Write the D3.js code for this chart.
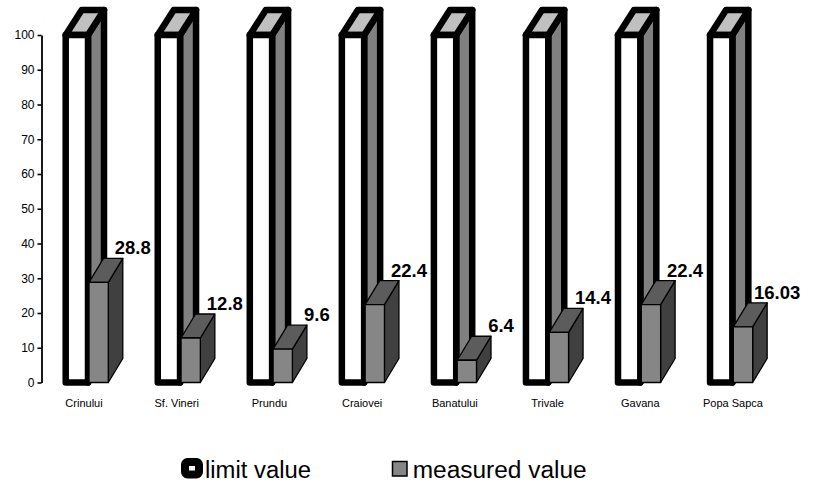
<!DOCTYPE html>
<html>
<head>
<meta charset="utf-8">
<script src="https://cdn.jsdelivr.net/npm/d3@7"></script>
<style>
  html, body { margin: 0; padding: 0; background: #fff; }
  svg { display: block; font-family: Arial, "Liberation Sans", sans-serif; }
</style>
</head>
<body>
<svg id="chart" width="814" height="487"></svg>
<script>
// Sampling points along the river and their measured concentrations vs. the limit
const categories = ["Crinului", "Sf. Vineri", "Prundu", "Craiovei", "Banatului", "Trivale", "Gavana", "Popa Sapca"];
const limitValues = [100, 100, 100, 100, 100, 100, 100, 100];
const measuredValues = [28.8, 12.8, 9.6, 22.4, 6.4, 14.4, 22.4, 16.03];
const measuredLabels = ["28.8", "12.8", "9.6", "22.4", "6.4", "14.4", "22.4", "16.03"];
const yTicks = [0, 10, 20, 30, 40, 50, 60, 70, 80, 90, 100];
const seriesNames = ["limit value", "measured value"];

const svg = d3.select("#chart");

const x = d3.scaleBand()
  .domain(categories)
  .range([41, 41 + 8 * 92.05])
  .paddingInner(0)
  .paddingOuter(0);

const xLabel = d3.scalePoint()
  .domain(categories)
  .range([84, 733]);

const y = d3.scaleLinear().domain([0, 100]).range([382.5, 35]);

// 3D box helpers: front rectangle plus oblique top and right side faces
function boxFaces(x0, w, yTop, yBottom, dx, dy) {
  const x1 = x0 + w;
  return {
    front: [[x0, yTop], [x1, yTop], [x1, yBottom], [x0, yBottom]],
    top: [[x0, yTop], [x1, yTop], [x1 + dx, yTop + dy], [x0 + dx, yTop + dy]],
    side: [[x1, yTop], [x1, yBottom], [x1 + dx, yBottom + dy], [x1 + dx, yTop + dy]]
  };
}
const poly = pts => "M" + pts.map(p => p.join(",")).join("L") + "Z";

const plot = svg.append("g");

categories.forEach((c, i) => {
  const g = plot.append("g");

  // limit column: white front, heavy black outline
  const lim = boxFaces(x(c) + 24.7, 22.3, y(limitValues[i]), y(0), 16, -25);
  const limStyle = sel => sel.attr("stroke", "#000").attr("stroke-width", 6.5)
    .attr("stroke-linejoin", "round");
  g.append("path").attr("d", poly(lim.side)).attr("fill", "#808080").call(limStyle);
  g.append("path").attr("d", poly(lim.top)).attr("fill", "#c0c0c0").call(limStyle);
  g.append("path").attr("d", poly(lim.front)).attr("fill", "#ffffff").call(limStyle);

  // measured column: gray shaded box
  const mx0 = x(c) + 48, mw = 19.3, mdx = 14.5, mdy = -24;
  const mea = boxFaces(mx0, mw, y(measuredValues[i]), y(0), mdx, mdy);
  const meaStyle = sel => sel.attr("stroke", "#000").attr("stroke-width", 1.3)
    .attr("stroke-linejoin", "round");
  g.append("path").attr("d", poly(mea.side)).attr("fill", "#404040").call(meaStyle);
  g.append("path").attr("d", poly(mea.top)).attr("fill", "#5c5c5c").call(meaStyle);
  g.append("path").attr("d", poly(mea.front)).attr("fill", "#868686").call(meaStyle);

  // value label above the back edge of the box
  g.append("text")
    .attr("x", mx0 + mw + mdx + 10)
    .attr("y", y(measuredValues[i]) + mdy - 4)
    .attr("text-anchor", "middle")
    .attr("font-size", "18.5px")
    .attr("font-weight", "bold")
    .attr("fill", "#000")
    .text(measuredLabels[i]);
});

// value axis
const yAxis = d3.axisLeft(y).tickValues(yTicks).tickSize(4).tickSizeOuter(0).tickPadding(3);
const ax = svg.append("g").attr("transform", "translate(41.5,0)").call(yAxis);
ax.select(".domain").attr("stroke", "#000").attr("stroke-width", 1.8);
ax.selectAll(".tick line").attr("stroke", "#000").attr("stroke-width", 1.6);
ax.selectAll(".tick text")
  .attr("font-size", "12px")
  .attr("font-family", "Arial, 'Liberation Sans', sans-serif")
  .attr("fill", "#000");

// category labels
svg.append("g").selectAll("text")
  .data(categories)
  .join("text")
  .attr("x", d => xLabel(d))
  .attr("y", 407)
  .attr("text-anchor", "middle")
  .attr("font-size", "11px")
  .attr("fill", "#000")
  .text(d => d);

// legend
const legend = svg.append("g");
legend.append("rect")
  .attr("x", 185).attr("y", 462).attr("width", 14).attr("height", 12.5)
  .attr("rx", 2.5)
  .attr("fill", "#fff").attr("stroke", "#000").attr("stroke-width", 8)
  .attr("stroke-linejoin", "round");
legend.append("text")
  .attr("x", 205).attr("y", 478.3)
  .attr("font-size", "23px").attr("fill", "#000")
  .attr("textLength", 106).attr("lengthAdjust", "spacingAndGlyphs")
  .text(seriesNames[0]);
legend.append("rect")
  .attr("x", 392.5).attr("y", 461.5).attr("width", 14.5).attr("height", 14.5)
  .attr("fill", "#868686").attr("stroke", "#000").attr("stroke-width", 1.5);
legend.append("text")
  .attr("x", 412.7).attr("y", 478.3)
  .attr("font-size", "23px").attr("fill", "#000")
  .attr("textLength", 174).attr("lengthAdjust", "spacingAndGlyphs")
  .text(seriesNames[1]);
</script>
</body>
</html>
